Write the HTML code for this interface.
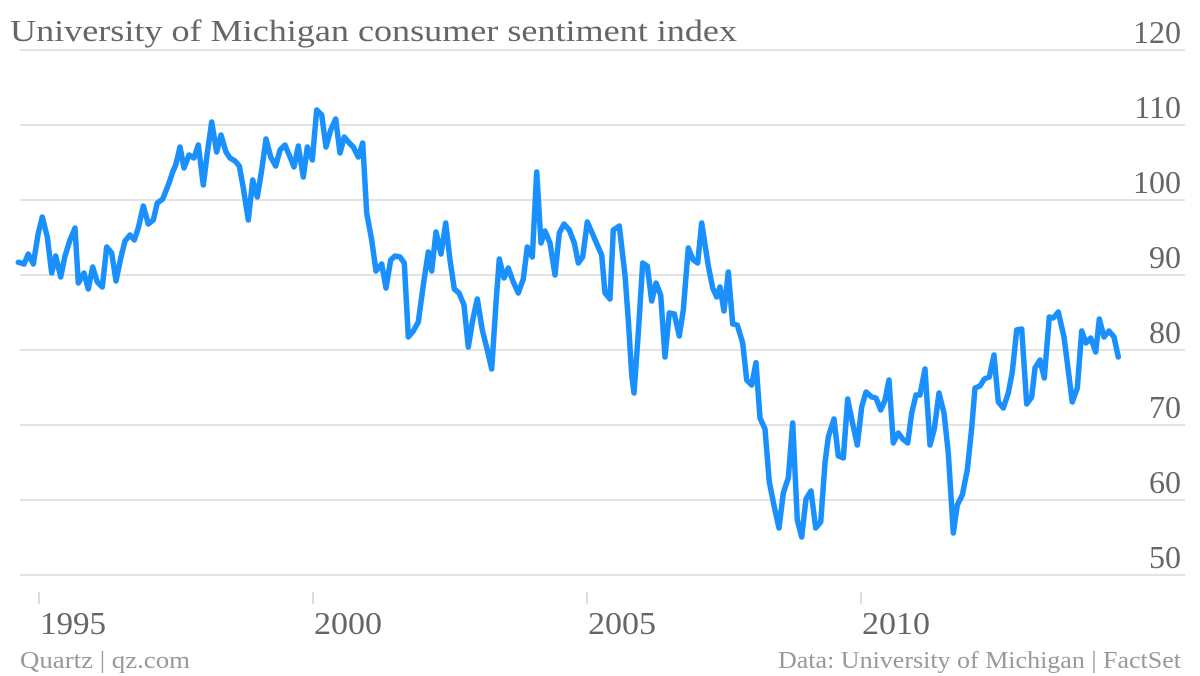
<!DOCTYPE html>
<html><head><meta charset="utf-8"><style>
html,body{margin:0;padding:0;background:#fff;}
svg{display:block;}
text{font-family:"Liberation Serif",serif;}
</style></head><body>
<svg width="1200" height="676" viewBox="0 0 1200 676" xmlns="http://www.w3.org/2000/svg">
<g stroke="#e3e3e3" stroke-width="2">
<line x1="20" x2="1185" y1="50" y2="50"/>
<line x1="20" x2="1185" y1="125" y2="125"/>
<line x1="20" x2="1185" y1="200" y2="200"/>
<line x1="20" x2="1185" y1="275" y2="275"/>
<line x1="20" x2="1185" y1="350" y2="350"/>
<line x1="20" x2="1185" y1="425" y2="425"/>
<line x1="20" x2="1185" y1="500" y2="500"/>
<line x1="20" x2="1185" y1="575" y2="575"/>
</g>
<g stroke="#ddd" stroke-width="2">
<line x1="39" x2="39" y1="592" y2="604"/>
<line x1="313" x2="313" y1="592" y2="604"/>
<line x1="587" x2="587" y1="592" y2="604"/>
<line x1="861" x2="861" y1="592" y2="604"/>
</g>
<g fill="#666" font-size="32">
<text x="40" y="634" textLength="66" lengthAdjust="spacingAndGlyphs">1995</text>
<text x="314" y="634" textLength="68" lengthAdjust="spacingAndGlyphs">2000</text>
<text x="588" y="634" textLength="68" lengthAdjust="spacingAndGlyphs">2005</text>
<text x="862" y="634" textLength="68" lengthAdjust="spacingAndGlyphs">2010</text>
</g>
<g fill="#666" font-size="32" text-anchor="end">
<text x="1181" y="43">120</text>
<text x="1181" y="118">110</text>
<text x="1181" y="193">100</text>
<text x="1181" y="268">90</text>
<text x="1181" y="343">80</text>
<text x="1181" y="418">70</text>
<text x="1181" y="493">60</text>
<text x="1181" y="568">50</text>
</g>
<text x="10" y="41" fill="#666" font-size="31" textLength="727" lengthAdjust="spacingAndGlyphs">University of Michigan consumer sentiment index</text>
<text x="20" y="668" fill="#999" font-size="24" textLength="170" lengthAdjust="spacingAndGlyphs">Quartz | qz.com</text>
<text x="778" y="668" fill="#999" font-size="24" textLength="403" lengthAdjust="spacingAndGlyphs">Data: University of Michigan | FactSet</text>
<polyline fill="none" stroke="#1a90ff" stroke-width="5.5" stroke-linejoin="round" stroke-linecap="round" points="
18.3,262.3 24,264 28.3,254 33.3,264 38.3,233 42.3,217 47.3,237 51.7,273 55.7,256 60.7,277 65,256 70,240 75,228 78.3,283 84,273 88.3,289 92.7,267 97.3,282 102.3,287 106.7,247 111.7,253 116,281 121,257 125,241 130,235 134.3,240 138.3,228 143.3,206 148.3,224 153.3,220 157.3,203 162.7,199 168.3,185 172.7,172 175.7,165 180,147 184,168 189,155 194,158 198.3,145 203.3,185 207.3,153 211.7,122 216.7,152 221,135 226,152 230,158 235,161 239.3,166 243.3,188 248.3,220 252.7,180 257.3,197 261.7,170 266,139 270.7,157 275.7,166 280,150 285,145 290,157 294,167 298.3,146 303.3,177 307.3,147 312.3,160 316.7,110 321.7,115 326,147 330.7,130 335.7,119 340,153 344.3,137 349.3,143 353.3,147 358.3,157 362.7,143 366.7,213 371.7,240 376,271 381.7,264 386,288 390.7,260 395,256 400,257 404.3,263 408.3,337 413.3,331 418.3,322 423.3,285 428.3,252 431.7,271 436,232 441,254 445.7,223 450,260 454.3,289 459,293 464,305 468.3,347 472.7,320 477.3,299 482.3,330 487.3,350 491.7,369 496,303 499.3,259 504,278 508.3,268 513.3,282 518.3,293 523.3,279 527.3,247 532.3,257 536.7,172 541,243 545,231 550,243 555,275 559.3,233 564,224 569.3,230 574.3,243 578.3,263 582.7,257 587.3,222 591.7,232 597.3,245 601.7,255 605,293 610,299 613.3,230 619.3,226 625,275 628.3,320 631.7,375 634,393 638.3,333 642.7,263 647.3,266 651.7,301 656,283 660.7,295 665,357 669.3,313 674.3,314 679.3,336 683.3,310 688.3,248 693.3,260 697.7,263 701.7,223 708.3,266 712.7,288 716.7,297 720,287 724,311 728.3,272 732.7,324 737.3,325 742.7,343 746.7,380 751.7,385 756,362.7 760,418 765,429 769.3,482 774.3,507 779,528 783.3,493 788.3,478 792.7,423 797.3,520 801.7,537 806,499 811,491 815.7,528 820.7,522 825,463 828.3,437 834,419 838.3,456 843.3,458 847.7,399 852.3,422 857.3,445 861.7,407 866,392 871.7,397 876,398 880.7,410 885,400 889,380 893.3,443 898.3,433 902.7,439 907.7,443 911.7,413 916,395 920,395 925,369 930,445 934.3,429 939,393 944,413 948.3,453 953.3,533 957.3,505 962.3,495 967.3,470 971.7,428 975,388 980,386 984.3,379 989.3,377 994,355 998.3,402 1003.3,408 1008.3,393 1012.3,372 1016.7,330 1021.7,329 1026.7,404 1031.7,397 1035,368 1040,360 1044.3,378 1049.3,317 1053.3,318 1058.3,312 1064,337 1072.3,402 1077.3,388 1081.7,331 1086,343 1090.7,338 1095.7,352 1099.3,319 1104,337 1109,331 1114,337 1118.3,357"/>
</svg>
</body></html>
